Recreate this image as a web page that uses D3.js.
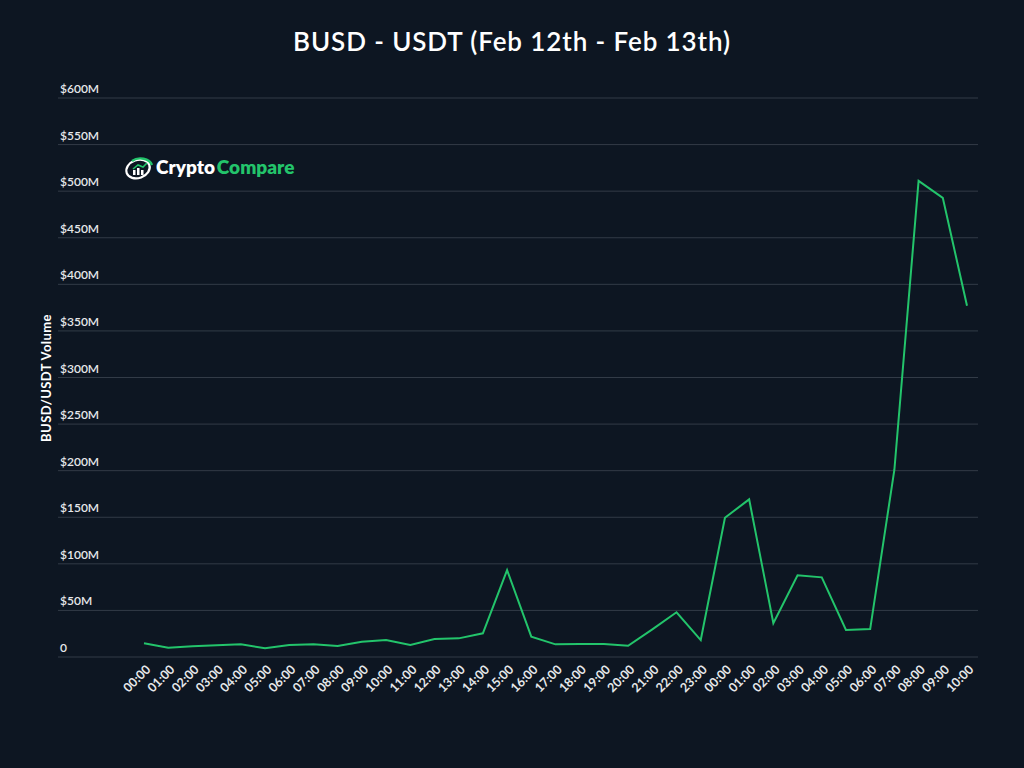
<!DOCTYPE html>
<html><head><meta charset="utf-8">
<script src="https://cdn.jsdelivr.net/npm/d3@7"></script>
<style>html,body{margin:0;padding:0;background:#0d1622;}svg{display:block;}</style>
</head><body>
<svg id="c" width="1024" height="768"></svg>
<script>
const categories = ["00:00","01:00","02:00","03:00","04:00","05:00","06:00","07:00","08:00","09:00","10:00","11:00","12:00","13:00","14:00","15:00","16:00","17:00","18:00","19:00","20:00","21:00","22:00","23:00","00:00","01:00","02:00","03:00","04:00","05:00","06:00","07:00","08:00","09:00","10:00"];
const volumeM = [14.7,10,11.5,12.5,13.6,9.3,12.9,13.6,11.8,16.4,18.2,12.9,19.3,20,25.4,93.3,21.8,13.6,13.9,13.9,12.1,29.7,48,18.2,149.5,169.2,36.2,87.7,85.5,29,30,201,511,492.8,377];
const yTicks = [0,50,100,150,200,250,300,350,400,450,500,550,600];
const yTickLabels = ["0","$50M","$100M","$150M","$200M","$250M","$300M","$350M","$400M","$450M","$500M","$550M","$600M"];

const svg = d3.select("#c");
const font = "Lato, 'Open Sans', sans-serif";
svg.append("rect").attr("width",1024).attr("height",768).attr("fill","#0d1622");

const idx = categories.map((d,i)=>i);
const x = d3.scalePoint().domain(idx).range([144,967]);
const y = d3.scaleLinear().domain([0,600]).range([657,98]);

// gridlines
const g = svg.append("g");
g.selectAll("line.grid").data(yTicks).enter().append("line")
  .attr("x1",58).attr("x2",978)
  .attr("y1",d=>y(d)).attr("y2",d=>y(d))
  .attr("stroke","#323b47").attr("stroke-width",1);
g.selectAll("text.yl").data(yTicks).enter().append("text")
  .attr("x",60).attr("y",d=>y(d)-5)
  .attr("fill","#e6e8ea").attr("font-family",font).attr("font-size",12).attr("font-weight",600)
  .text((d,i)=>yTickLabels[i]);

// x labels
g.selectAll("text.xl").data(idx).enter().append("text")
  .attr("transform",d=>`translate(${x(d)+5},668) rotate(-45)`)
  .attr("text-anchor","end").attr("dominant-baseline","middle")
  .attr("fill","#e6e8ea").attr("font-family",font).attr("font-size",12.5).attr("font-weight",700)
  .text(d=>categories[d]);

// line
const line = d3.line().x((d,i)=>x(i)).y(d=>y(d));
svg.append("path").datum(volumeM).attr("d",line)
  .attr("fill","none").attr("stroke","#23c46b").attr("stroke-width",2).attr("stroke-linejoin","miter");

// title
svg.append("text").attr("x",512).attr("y",51).attr("text-anchor","middle")
  .attr("fill","#ffffff").attr("font-family",font).attr("font-size",26).attr("font-weight",600)
  .attr("letter-spacing",0.9)
  .text("BUSD - USDT (Feb 12th - Feb 13th)");

// y axis title
svg.append("text").attr("transform","translate(51,378) rotate(-90)")
  .attr("text-anchor","middle").attr("fill","#ffffff").attr("font-family",font)
  .attr("font-size",13).attr("font-weight",700).attr("letter-spacing",0.4).text("BUSD/USDT Volume");

// logo
const logo = svg.append("g").attr("transform","translate(124,157)");
logo.append("ellipse").attr("cx",14).attr("cy",12).attr("rx",12).attr("ry",9)
  .attr("fill","none").attr("stroke","#ffffff").attr("stroke-width",2.2)
  .attr("transform","rotate(-20,14,12)");
logo.append("path").attr("d","M8 4 A12 9 0 0 1 28 8").attr("fill","none").attr("stroke","#23c46b").attr("stroke-width",2.4);
logo.append("rect").attr("x",9).attr("y",13).attr("width",2.5).attr("height",5).attr("fill","#fff");
logo.append("rect").attr("x",13).attr("y",11).attr("width",2.5).attr("height",7).attr("fill","#fff");
logo.append("rect").attr("x",17).attr("y",13).attr("width",2.5).attr("height",5).attr("fill","#fff");
logo.append("path").attr("d","M9 12 L14 8 L19 10 L23 6").attr("fill","none").attr("stroke","#23c46b").attr("stroke-width",1.6);
const lt = logo.append("text").attr("x",32).attr("y",17).attr("font-family",font).attr("font-size",19).attr("font-weight",800);
lt.append("tspan").attr("fill","#ffffff").text("Crypto");
lt.append("tspan").attr("fill","#23c46b").attr("dx",2).text("Compare");
</script>
</body></html>
